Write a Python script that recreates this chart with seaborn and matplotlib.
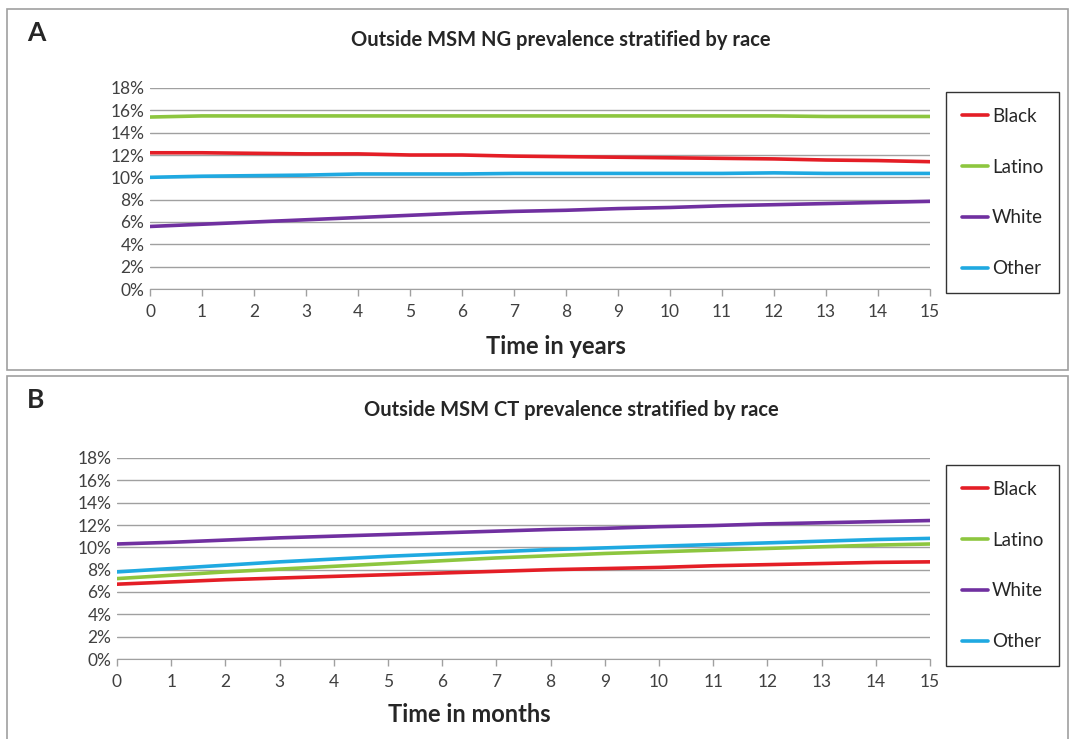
import numpy as np
import pandas as pd
import matplotlib
matplotlib.use('Agg')
import matplotlib.pyplot as plt
import seaborn as sns
from matplotlib.patches import Rectangle
from matplotlib.ticker import FuncFormatter

# data (prevalence in %, one value per year / month)
time = list(range(16))
races = ['Black', 'Latino', 'White', 'Other']

ng_black = [12.2, 12.2, 12.15, 12.1, 12.1, 12.0, 12.0, 11.9, 11.85, 11.8, 11.75, 11.7, 11.65, 11.55, 11.5, 11.4]
ng_latino = [15.4, 15.5, 15.5, 15.5, 15.5, 15.5, 15.5, 15.5, 15.5, 15.5, 15.5, 15.5, 15.5, 15.45, 15.45, 15.45]
ng_white = [5.6, 5.8, 6.0, 6.2, 6.4, 6.6, 6.8, 6.95, 7.05, 7.2, 7.3, 7.45, 7.55, 7.65, 7.75, 7.85]
ng_other = [10.0, 10.1, 10.15, 10.2, 10.3, 10.3, 10.3, 10.35, 10.35, 10.35, 10.35, 10.35, 10.4, 10.35, 10.35, 10.35]

ct_black = [6.7, 6.9, 7.1, 7.25, 7.4, 7.55, 7.7, 7.85, 8.0, 8.1, 8.2, 8.35, 8.45, 8.55, 8.65, 8.7]
ct_latino = [7.2, 7.5, 7.8, 8.05, 8.3, 8.55, 8.8, 9.05, 9.25, 9.45, 9.6, 9.75, 9.9, 10.05, 10.2, 10.3]
ct_white = [10.3, 10.45, 10.65, 10.85, 11.0, 11.15, 11.3, 11.45, 11.6, 11.7, 11.85, 11.95, 12.1, 12.2, 12.3, 12.4]
ct_other = [7.8, 8.1, 8.4, 8.7, 8.95, 9.2, 9.4, 9.6, 9.8, 9.95, 10.1, 10.25, 10.4, 10.55, 10.7, 10.8]

colors = {'Black': '#e41e26', 'Latino': '#8dc63f', 'White': '#7030a0', 'Other': '#1fa9e1'}

sns.set_style('white')
plt.rcParams['font.family'] = ['Lato', 'DejaVu Sans']

W, H = 1073, 739
fig = plt.figure(figsize=(W / 100, H / 100), dpi=100)


def long_df(series):
    rows = []
    for race, vals in zip(races, series):
        for t, v in zip(time, vals):
            rows.append({'time': t, 'prev': v, 'race': race})
    return pd.DataFrame(rows)


def px_axes(x0, x1, y0, y1):
    return fig.add_axes([x0 / W, 1 - y1 / H, (x1 - x0) / W, (y1 - y0) / H])


# panel frames
fig.patches.append(Rectangle((7 / W, 1 - 370 / H), 1061 / W, 361 / H, transform=fig.transFigure,
                             fill=False, edgecolor='#a0a0a0', linewidth=1.2))
fig.patches.append(Rectangle((7 / W, -0.01), 1061 / W, 1 - 376 / H + 0.01, transform=fig.transFigure,
                             fill=False, edgecolor='#a0a0a0', linewidth=1.2))

panels = [
    dict(letter='A', title='Outside MSM NG prevalence stratified by race', xlabel='Time in years',
         data=[ng_black, ng_latino, ng_white, ng_other], box=(150, 930, 88, 289), leg_top=92,
         letter_y=33, title_x=561, title_y=40, xlabel_x=556, xlabel_y=346),
    dict(letter='B', title='Outside MSM CT prevalence stratified by race', xlabel='Time in months',
         data=[ct_black, ct_latino, ct_white, ct_other], box=(117, 930, 458, 659), leg_top=465,
         letter_y=400, title_x=571, title_y=410, xlabel_x=469, xlabel_y=714),
]

for p in panels:
    x0, x1, y0, y1 = p['box']
    ax = px_axes(x0, x1, y0, y1)
    df = long_df(p['data'])
    sns.lineplot(data=df, x='time', y='prev', hue='race', palette=colors, hue_order=races,
                 linewidth=2.6, ax=ax)
    ax.set_xlim(0, 15)
    ax.set_ylim(0, 18)
    ax.set_xticks(time)
    ax.set_yticks(range(0, 19, 2))
    ax.yaxis.set_major_formatter(FuncFormatter(lambda v, _: f'{int(v)}%'))
    ax.grid(axis='y', color='#a0a0a0', linewidth=1.0)
    ax.set_axisbelow(True)
    for s in ['top', 'right', 'left']:
        ax.spines[s].set_visible(False)
    ax.spines['bottom'].set_color('#a0a0a0')
    ax.tick_params(axis='x', length=5, width=1, color='#a0a0a0', direction='out', labelsize=12.5,
                   labelcolor='#404040', pad=6)
    ax.tick_params(axis='y', length=0, labelsize=12.5, labelcolor='#404040', pad=4)
    ax.xaxis.set_ticks_position('bottom')
    ax.set_xlabel('')
    ax.set_ylabel('')

    leg = ax.legend(loc='upper left', bbox_to_anchor=(946 / W, 1 - p['leg_top'] / H),
                    bbox_transform=fig.transFigure, frameon=True, fancybox=False,
                    edgecolor='black', fontsize=13.5, handlelength=1.4, handletextpad=0.2,
                    labelspacing=1.8, borderpad=0.85, borderaxespad=0)
    leg.get_frame().set_linewidth(1.0)
    for line in leg.get_lines():
        line.set_linewidth(2.6)

    fig.text(27 / W, 1 - p['letter_y'] / H, p['letter'], fontsize=19,
             fontweight='bold', va='center', ha='left')
    fig.text(p['title_x'] / W, 1 - p['title_y'] / H, p['title'], fontsize=14.5, fontweight='bold',
             va='center', ha='center')
    fig.text(p['xlabel_x'] / W, 1 - p['xlabel_y'] / H, p['xlabel'], fontsize=17, fontweight='bold',
             va='center', ha='center')

fig.savefig('out.png', dpi=100)
